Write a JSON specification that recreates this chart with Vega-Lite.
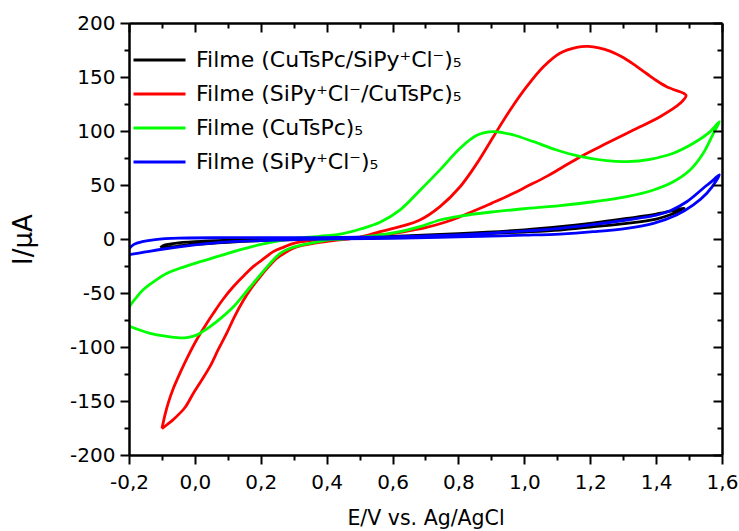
{
  "$schema": "https://vega.github.io/schema/vega-lite/v6.json",
  "width": 593,
  "height": 432,
  "autosize": {"type": "none"},
  "padding": {"left": 129, "top": 23, "right": 17, "bottom": 76},
  "background": "white",
  "config": {"view": {"stroke": null}, "font": "DejaVu Sans"},
  "data": {"values": [
    {"s":"A","o":0,"E":-0.105,"I":-8},{"s":"A","o":1,"E":-0.09,"I":-5.5},{"s":"A","o":2,"E":-0.06,"I":-4},{"s":"A","o":3,"E":0,"I":-2.5},{"s":"A","o":4,"E":0.1,"I":-1},{"s":"A","o":5,"E":0.2,"I":0},{"s":"A","o":6,"E":0.4,"I":0.8},{"s":"A","o":7,"E":0.6,"I":2.5},{"s":"A","o":8,"E":0.8,"I":5},{"s":"A","o":9,"E":1.0,"I":8.5},{"s":"A","o":10,"E":1.108,"I":11.4},{"s":"A","o":11,"E":1.2,"I":14.5},{"s":"A","o":12,"E":1.311,"I":19},{"s":"A","o":13,"E":1.4,"I":23},{"s":"A","o":14,"E":1.462,"I":27},{"s":"A","o":15,"E":1.485,"I":28.5},{"s":"A","o":16,"E":1.443,"I":22.5},{"s":"A","o":17,"E":1.4,"I":18.5},{"s":"A","o":18,"E":1.311,"I":14.5},{"s":"A","o":19,"E":1.2,"I":11},{"s":"A","o":20,"E":1.108,"I":8.3},{"s":"A","o":21,"E":1.0,"I":6.5},{"s":"A","o":22,"E":0.8,"I":4},{"s":"A","o":23,"E":0.6,"I":2},{"s":"A","o":24,"E":0.4,"I":0.2},{"s":"A","o":25,"E":0.2,"I":-1.5},{"s":"A","o":26,"E":0.1,"I":-3},{"s":"A","o":27,"E":0,"I":-5},{"s":"A","o":28,"E":-0.05,"I":-6.5},{"s":"A","o":29,"E":-0.105,"I":-8.5},

    {"s":"B","o":0,"E":-0.1,"I":-175.5},{"s":"B","o":1,"E":-0.085,"I":-172},{"s":"B","o":2,"E":-0.065,"I":-167},{"s":"B","o":3,"E":-0.03,"I":-156},{"s":"B","o":4,"E":-0.005,"I":-143},{"s":"B","o":5,"E":0.02,"I":-131},{"s":"B","o":6,"E":0.046,"I":-118},{"s":"B","o":7,"E":0.07,"I":-103},{"s":"B","o":8,"E":0.097,"I":-87},{"s":"B","o":9,"E":0.12,"I":-72},{"s":"B","o":10,"E":0.147,"I":-57},{"s":"B","o":11,"E":0.17,"I":-46},{"s":"B","o":12,"E":0.198,"I":-35},{"s":"B","o":13,"E":0.22,"I":-27},{"s":"B","o":14,"E":0.248,"I":-18},{"s":"B","o":15,"E":0.275,"I":-12.5},{"s":"B","o":16,"E":0.299,"I":-8.6},{"s":"B","o":17,"E":0.33,"I":-5.8},{"s":"B","o":18,"E":0.36,"I":-4},{"s":"B","o":19,"E":0.42,"I":-1.5},{"s":"B","o":20,"E":0.5,"I":1.5},{"s":"B","o":21,"E":0.562,"I":6.8},{"s":"B","o":22,"E":0.623,"I":11.4},{"s":"B","o":23,"E":0.683,"I":17.6},{"s":"B","o":24,"E":0.744,"I":30},{"s":"B","o":25,"E":0.805,"I":48.4},{"s":"B","o":26,"E":0.856,"I":70},{"s":"B","o":27,"E":0.906,"I":94.7},{"s":"B","o":28,"E":0.957,"I":119.4},{"s":"B","o":29,"E":1.007,"I":141},{"s":"B","o":30,"E":1.058,"I":159.5},{"s":"B","o":31,"E":1.108,"I":172},{"s":"B","o":32,"E":1.159,"I":177.5},{"s":"B","o":33,"E":1.194,"I":178.3},{"s":"B","o":34,"E":1.226,"I":177},{"s":"B","o":35,"E":1.26,"I":174},{"s":"B","o":36,"E":1.3,"I":168},{"s":"B","o":37,"E":1.331,"I":162},{"s":"B","o":38,"E":1.372,"I":153},{"s":"B","o":39,"E":1.402,"I":146.5},{"s":"B","o":40,"E":1.432,"I":141},{"s":"B","o":41,"E":1.452,"I":138.5},{"s":"B","o":42,"E":1.491,"I":133},{"s":"B","o":43,"E":1.473,"I":125.6},{"s":"B","o":44,"E":1.412,"I":113.2},{"s":"B","o":45,"E":1.331,"I":100.9},{"s":"B","o":46,"E":1.25,"I":88.6},{"s":"B","o":47,"E":1.169,"I":76},{"s":"B","o":48,"E":1.108,"I":65},{"s":"B","o":49,"E":1.068,"I":58},{"s":"B","o":50,"E":1.007,"I":48.5},{"s":"B","o":51,"E":0.967,"I":42.3},{"s":"B","o":52,"E":0.9,"I":33},{"s":"B","o":53,"E":0.866,"I":28.4},{"s":"B","o":54,"E":0.8,"I":20},{"s":"B","o":55,"E":0.764,"I":16},{"s":"B","o":56,"E":0.7,"I":10.5},{"s":"B","o":57,"E":0.663,"I":8.3},{"s":"B","o":58,"E":0.6,"I":5},{"s":"B","o":59,"E":0.562,"I":3.7},{"s":"B","o":60,"E":0.5,"I":1.5},{"s":"B","o":61,"E":0.45,"I":0.5},{"s":"B","o":62,"E":0.4,"I":-0.3},{"s":"B","o":63,"E":0.35,"I":-1.5},{"s":"B","o":64,"E":0.3,"I":-4},{"s":"B","o":65,"E":0.27,"I":-7.5},{"s":"B","o":66,"E":0.238,"I":-11.7},{"s":"B","o":67,"E":0.21,"I":-18},{"s":"B","o":68,"E":0.177,"I":-25.6},{"s":"B","o":69,"E":0.15,"I":-33.5},{"s":"B","o":70,"E":0.117,"I":-44},{"s":"B","o":71,"E":0.085,"I":-56},{"s":"B","o":72,"E":0.056,"I":-68.8},{"s":"B","o":73,"E":0.03,"I":-81},{"s":"B","o":74,"E":0.005,"I":-93.5},{"s":"B","o":75,"E":-0.02,"I":-108},{"s":"B","o":76,"E":-0.045,"I":-124},{"s":"B","o":77,"E":-0.065,"I":-138},{"s":"B","o":78,"E":-0.081,"I":-152},{"s":"B","o":79,"E":-0.09,"I":-162},{"s":"B","o":80,"E":-0.1,"I":-175.5},

    {"s":"C","o":0,"E":-0.2,"I":-63},{"s":"C","o":1,"E":-0.18,"I":-55},{"s":"C","o":2,"E":-0.157,"I":-47},{"s":"C","o":3,"E":-0.12,"I":-38.5},{"s":"C","o":4,"E":-0.086,"I":-32},{"s":"C","o":5,"E":-0.04,"I":-26.5},{"s":"C","o":6,"E":0,"I":-22.5},{"s":"C","o":7,"E":0.05,"I":-18},{"s":"C","o":8,"E":0.1,"I":-13.3},{"s":"C","o":9,"E":0.15,"I":-9},{"s":"C","o":10,"E":0.2,"I":-5},{"s":"C","o":11,"E":0.25,"I":-2},{"s":"C","o":12,"E":0.3,"I":0.3},{"s":"C","o":13,"E":0.35,"I":1.8},{"s":"C","o":14,"E":0.4,"I":3},{"s":"C","o":15,"E":0.45,"I":5},{"s":"C","o":16,"E":0.5,"I":9},{"s":"C","o":17,"E":0.562,"I":15.5},{"s":"C","o":18,"E":0.623,"I":27},{"s":"C","o":19,"E":0.683,"I":45},{"s":"C","o":20,"E":0.744,"I":64},{"s":"C","o":21,"E":0.805,"I":84},{"s":"C","o":22,"E":0.856,"I":96},{"s":"C","o":23,"E":0.906,"I":99.4},{"s":"C","o":24,"E":0.967,"I":96.3},{"s":"C","o":25,"E":1.028,"I":90.1},{"s":"C","o":26,"E":1.098,"I":82.4},{"s":"C","o":27,"E":1.169,"I":76.5},{"s":"C","o":28,"E":1.25,"I":72.5},{"s":"C","o":29,"E":1.311,"I":71.6},{"s":"C","o":30,"E":1.382,"I":73.8},{"s":"C","o":31,"E":1.452,"I":79.4},{"s":"C","o":32,"E":1.513,"I":88.6},{"s":"C","o":33,"E":1.564,"I":99.4},{"s":"C","o":34,"E":1.592,"I":108.6},{"s":"C","o":35,"E":1.574,"I":97.9},{"s":"C","o":36,"E":1.543,"I":79.4},{"s":"C","o":37,"E":1.503,"I":63.9},{"s":"C","o":38,"E":1.452,"I":53},{"s":"C","o":39,"E":1.392,"I":45.4},{"s":"C","o":40,"E":1.311,"I":39.2},{"s":"C","o":41,"E":1.21,"I":34.5},{"s":"C","o":42,"E":1.108,"I":31},{"s":"C","o":43,"E":1.0,"I":28},{"s":"C","o":44,"E":0.9,"I":25},{"s":"C","o":45,"E":0.8,"I":21},{"s":"C","o":46,"E":0.744,"I":17.6},{"s":"C","o":47,"E":0.683,"I":11.4},{"s":"C","o":48,"E":0.623,"I":6.8},{"s":"C","o":49,"E":0.562,"I":3.7},{"s":"C","o":50,"E":0.5,"I":1.5},{"s":"C","o":51,"E":0.45,"I":0},{"s":"C","o":52,"E":0.4,"I":-1},{"s":"C","o":53,"E":0.36,"I":-3.4},{"s":"C","o":54,"E":0.32,"I":-6},{"s":"C","o":55,"E":0.289,"I":-8.6},{"s":"C","o":56,"E":0.26,"I":-13},{"s":"C","o":57,"E":0.238,"I":-19.4},{"s":"C","o":58,"E":0.21,"I":-29},{"s":"C","o":59,"E":0.177,"I":-41},{"s":"C","o":60,"E":0.15,"I":-51},{"s":"C","o":61,"E":0.117,"I":-62.7},{"s":"C","o":62,"E":0.08,"I":-73},{"s":"C","o":63,"E":0.046,"I":-81.2},{"s":"C","o":64,"E":0.02,"I":-86.5},{"s":"C","o":65,"E":0.005,"I":-89},{"s":"C","o":66,"E":-0.02,"I":-91},{"s":"C","o":67,"E":-0.045,"I":-91.5},{"s":"C","o":68,"E":-0.09,"I":-90},{"s":"C","o":69,"E":-0.136,"I":-87.3},{"s":"C","o":70,"E":-0.17,"I":-84},{"s":"C","o":71,"E":-0.2,"I":-80.5},

    {"s":"D","o":0,"E":-0.2,"I":-9},{"s":"D","o":1,"E":-0.185,"I":-5},{"s":"D","o":2,"E":-0.16,"I":-2.5},{"s":"D","o":3,"E":-0.12,"I":-0.5},{"s":"D","o":4,"E":-0.05,"I":0.8},{"s":"D","o":5,"E":0.1,"I":1.2},{"s":"D","o":6,"E":0.3,"I":1.3},{"s":"D","o":7,"E":0.5,"I":1.6},{"s":"D","o":8,"E":0.7,"I":2.8},{"s":"D","o":9,"E":0.9,"I":5.5},{"s":"D","o":10,"E":1.108,"I":9.9},{"s":"D","o":11,"E":1.2,"I":13},{"s":"D","o":12,"E":1.311,"I":17.6},{"s":"D","o":13,"E":1.4,"I":22},{"s":"D","o":14,"E":1.443,"I":26.2},{"s":"D","o":15,"E":1.493,"I":34.5},{"s":"D","o":16,"E":1.543,"I":47},{"s":"D","o":17,"E":1.575,"I":55},{"s":"D","o":18,"E":1.592,"I":59.5},{"s":"D","o":19,"E":1.584,"I":54.6},{"s":"D","o":20,"E":1.554,"I":42.3},{"s":"D","o":21,"E":1.513,"I":31.5},{"s":"D","o":22,"E":1.462,"I":22.2},{"s":"D","o":23,"E":1.392,"I":14.5},{"s":"D","o":24,"E":1.311,"I":9.9},{"s":"D","o":25,"E":1.21,"I":6.8},{"s":"D","o":26,"E":1.108,"I":4.6},{"s":"D","o":27,"E":1.0,"I":3.5},{"s":"D","o":28,"E":0.8,"I":2},{"s":"D","o":29,"E":0.6,"I":0.5},{"s":"D","o":30,"E":0.4,"I":0},{"s":"D","o":31,"E":0.2,"I":-1.5},{"s":"D","o":32,"E":0.1,"I":-2.7},{"s":"D","o":33,"E":0,"I":-5.5},{"s":"D","o":34,"E":-0.1,"I":-9.5},{"s":"D","o":35,"E":-0.15,"I":-12},{"s":"D","o":36,"E":-0.2,"I":-14.5}
  ]},
  "layer": [
    {
      "mark": {"type": "line", "strokeWidth": 2.8, "clip": true, "interpolate": "catmull-rom"},
      "encoding": {
        "x": {"field": "E", "type": "quantitative",
          "scale": {"domain": [-0.2, 1.6], "nice": false, "zero": false},
          "axis": {"orient": "bottom", "zindex": 1,
            "values": [-0.2,-0.1,0,0.1,0.2,0.3,0.4,0.5,0.6,0.7,0.8,0.9,1.0,1.1,1.2,1.3,1.4,1.5,1.6],
            "grid": false, "domainColor": "black", "domainWidth": 2.5,
            "tickColor": "black", "tickWidth": 2,
            "tickSize": {"condition": {"test": "abs(round(datum.value*10))%2==0", "value": 9}, "value": 5},
            "labelExpr": "abs(round(datum.value*10))%2==0 ? replace(replace(format(datum.value,'.1f'),'.',','),'−','-') : ''",
            "labelFont": "DejaVu Sans", "labelFontSize": 20, "labelColor": "black", "labelPadding": 8,
            "labelOverlap": false, "labelFlush": false,
            "title": "E/V vs. Ag/AgCl", "titleFont": "DejaVu Sans", "titleFontSize": 20.5, "titleFontWeight": "normal", "titleColor": "black", "titlePadding": 16}},
        "y": {"field": "I", "type": "quantitative",
          "scale": {"domain": [-200, 200], "nice": false, "zero": false},
          "axis": {"orient": "left", "zindex": 1,
            "values": [-200,-175,-150,-125,-100,-75,-50,-25,0,25,50,75,100,125,150,175,200],
            "grid": false, "domainColor": "black", "domainWidth": 2.5,
            "tickColor": "black", "tickWidth": 2,
            "tickSize": {"condition": {"test": "datum.value % 50 == 0", "value": 9}, "value": 5},
            "labelExpr": "datum.value % 50 == 0 ? '' + datum.value : ''",
            "labelFont": "DejaVu Sans", "labelFontSize": 20, "labelColor": "black", "labelPadding": 5,
            "labelOverlap": false, "labelFlush": false,
            "title": "I/µA", "titleFont": "DejaVu Sans", "titleFontSize": 26, "titleFontWeight": "normal", "titleColor": "black", "titlePadding": 33}},
        "color": {"field": "s", "type": "nominal",
          "scale": {"domain": ["A","B","C","D"], "range": ["#000000","#ff0000","#00ff00","#0000ff"]},
          "legend": {"orient": "none", "legendX": 3, "legendY": 26, "title": null, "padding": 0,
            "symbolType": "stroke", "symbolSize": 2704, "symbolStrokeWidth": 3, "clipHeight": 22,
            "rowPadding": 12, "labelOffset": 9,
            "labelFont": "DejaVu Sans", "labelFontSize": 22, "labelColor": "black", "labelLimit": 400,
            "labelExpr": "{'A':'Filme (CuTsPc/SiPy⁺Cl⁻)₅','B':'Filme (SiPy⁺Cl⁻/CuTsPc)₅','C':'Filme (CuTsPc)₅','D':'Filme (SiPy⁺Cl⁻)₅'}[datum.label]"}},
        "order": {"field": "o", "type": "quantitative"}
      }
    },
    {
      "mark": {"type": "point", "opacity": 0},
      "encoding": {
        "x": {"field": "E", "type": "quantitative",
          "scale": {"domain": [-0.2, 1.6], "nice": false, "zero": false},
          "axis": {"orient": "top", "zindex": 1, "title": null, "labels": false,
            "values": [-0.2,-0.1,0,0.1,0.2,0.3,0.4,0.5,0.6,0.7,0.8,0.9,1.0,1.1,1.2,1.3,1.4,1.5,1.6],
            "grid": false, "domainColor": "black", "domainWidth": 2.5,
            "tickColor": "black", "tickWidth": 2,
            "tickSize": {"condition": {"test": "abs(round(datum.value*10))%2==0", "value": -9}, "value": -5}}},
        "y": {"field": "I", "type": "quantitative",
          "scale": {"domain": [-200, 200], "nice": false, "zero": false},
          "axis": {"orient": "right", "zindex": 1, "title": null, "labels": false,
            "values": [-200,-175,-150,-125,-100,-75,-50,-25,0,25,50,75,100,125,150,175,200],
            "grid": false, "domainColor": "black", "domainWidth": 2.5,
            "tickColor": "black", "tickWidth": 2,
            "tickSize": {"condition": {"test": "datum.value % 50 == 0", "value": -9}, "value": -5}}}
      }
    }
  ],
  "resolve": {"axis": {"x": "independent", "y": "independent"}}
}
